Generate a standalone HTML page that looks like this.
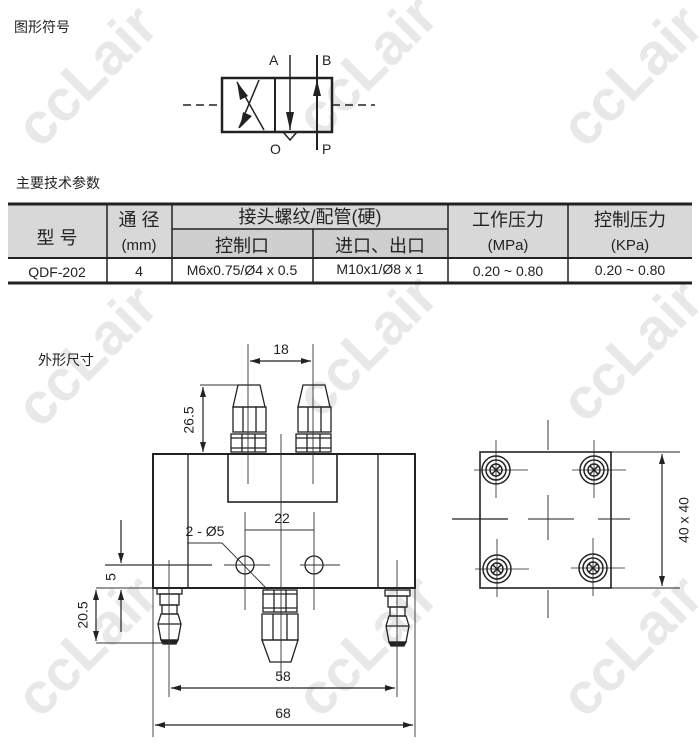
<!DOCTYPE html>
<html><head><meta charset="utf-8"><style>
html,body{margin:0;padding:0;background:#fff;}
svg{display:block;}
text{font-family:"Liberation Sans","Noto Sans CJK SC",sans-serif;fill:#222;}
.cjk{font-family:"Noto Sans CJK SC","WenQuanYi Zen Hei",sans-serif;}
.wm{font-family:"Liberation Sans",sans-serif;font-weight:bold;font-size:58px;fill:#e8e8e8;}
</style></head><body>
<svg width="700" height="752" viewBox="0 0 700 752" xmlns="http://www.w3.org/2000/svg">
<defs>
<marker id="ar" viewBox="0 0 10 6" refX="10" refY="3" markerWidth="10" markerHeight="6" orient="auto-start-reverse" markerUnits="userSpaceOnUse"><path d="M0,0L10,3L0,6z" fill="#222"/></marker>
</defs>
<g>
<text class="wm" transform="translate(40,150) rotate(-45)">ccLair</text>
<text class="wm" transform="translate(320,140) rotate(-45)">ccLair</text>
<text class="wm" transform="translate(585,150) rotate(-45)">ccLair</text>
<text class="wm" transform="translate(40,430) rotate(-45)">ccLair</text>
<text class="wm" transform="translate(320,420) rotate(-45)">ccLair</text>
<text class="wm" transform="translate(585,425) rotate(-45)">ccLair</text>
<text class="wm" transform="translate(40,720) rotate(-45)">ccLair</text>
<text class="wm" transform="translate(320,720) rotate(-45)">ccLair</text>
<text class="wm" transform="translate(585,720) rotate(-45)">ccLair</text>
</g>

<text x="14" y="32" font-size="14" class="cjk">图形符号</text>
<text x="16" y="188" font-size="14" class="cjk">主要技术参数</text>
<text x="38" y="365" font-size="14" class="cjk">外形尺寸</text>

<g stroke="#222" fill="none">
<rect x="222" y="78" width="110" height="54" stroke-width="2.5"/>
<line x1="275" y1="78" x2="275" y2="132" stroke-width="2"/>
<line x1="183" y1="105" x2="222" y2="105" stroke-width="1.5" stroke-dasharray="8,5"/>
<line x1="332" y1="105" x2="375" y2="105" stroke-width="1.5" stroke-dasharray="8,5"/>
<line x1="237" y1="82" x2="264" y2="130" stroke-width="1.5"/>
<line x1="259" y1="80" x2="239" y2="128" stroke-width="1.5"/>
<line x1="290" y1="55" x2="290" y2="130" stroke-width="1.5"/>
<line x1="317" y1="55" x2="317" y2="150" stroke-width="2"/>
<path d="M283,132 L290,140 L297,132" stroke-width="1.5"/>
</g>
<path d="M237,82 L248,96 L240,100z" fill="#222"/>
<path d="M240,128 L243,112 L252,116z" fill="#222"/>
<path d="M286,112 L294,112 L290,130z" fill="#222"/>
<path d="M313,96 L321,96 L317,80z" fill="#222"/>
<text x="269" y="65" font-size="14">A</text>
<text x="322" y="65" font-size="14">B</text>
<text x="270" y="154" font-size="14">O</text>
<text x="322" y="154" font-size="14">P</text>

<rect x="8" y="204" width="684" height="54" fill="#d8d8d8"/>
<rect x="172" y="229" width="276" height="29" fill="#cfcfcf"/>
<g stroke="#222" fill="none">
<line x1="8" y1="204" x2="692" y2="204" stroke-width="3"/>
<line x1="8" y1="258" x2="692" y2="258" stroke-width="2"/>
<line x1="8" y1="283" x2="692" y2="283" stroke-width="3"/>
<line x1="172" y1="229" x2="448" y2="229" stroke-width="1.5"/>
<line x1="107" y1="204" x2="107" y2="283" stroke-width="1.5"/>
<line x1="172" y1="204" x2="172" y2="283" stroke-width="1.5"/>
<line x1="313" y1="229" x2="313" y2="283" stroke-width="1.5"/>
<line x1="448" y1="204" x2="448" y2="283" stroke-width="1.5"/>
<line x1="568" y1="204" x2="568" y2="283" stroke-width="1.5"/>
</g>
<g font-size="18" class="cjk" text-anchor="middle">
<text x="57" y="244">型 号</text>
<text x="139" y="226">通 径</text>
<text x="310" y="223">接头螺纹/配管(硬)</text>
<text x="242" y="252">控制口</text>
<text x="380" y="252">进口、出口</text>
<text x="508" y="226">工作压力</text>
<text x="630" y="226">控制压力</text>
</g>
<g font-size="15" text-anchor="middle">
<text x="139" y="250">(mm)</text>
<text x="508" y="250">(MPa)</text>
<text x="630" y="250">(KPa)</text>
</g>
<g font-size="14" text-anchor="middle">
<text x="57" y="277">QDF-202</text>
<text x="139" y="276">4</text>
<text x="242" y="275">M6x0.75/Ø4 x 0.5</text>
<text x="380" y="274">M10x1/Ø8 x 1</text>
<text x="508" y="276">0.20 ~ 0.80</text>
<text x="630" y="275">0.20 ~ 0.80</text>
</g>

<g stroke="#222" fill="none" stroke-width="1.3">
<rect x="153" y="454" width="262" height="134" stroke-width="2"/>
<line x1="188" y1="454" x2="188" y2="588"/>
<line x1="378" y1="454" x2="378" y2="588"/>
<rect x="228" y="454" width="109" height="48" stroke-width="1.6"/>
<g id="tf">
<path d="M238,385 L260,385 L265,407 L233,407z"/>
<rect x="233" y="407" width="33" height="25"/>
<line x1="243" y1="407" x2="243" y2="432"/><line x1="256" y1="407" x2="256" y2="432"/>
<rect x="231" y="434" width="35" height="18"/>
<line x1="231" y1="438" x2="266" y2="438"/><line x1="231" y1="448" x2="266" y2="448"/>
<line x1="242" y1="434" x2="242" y2="452"/><line x1="255" y1="434" x2="255" y2="452"/>
</g>
<use href="#tf" transform="translate(65,0)"/>
<rect x="263" y="590" width="34" height="22"/>
<line x1="263" y1="594" x2="297" y2="594"/><line x1="263" y1="608" x2="297" y2="608"/>
<line x1="274" y1="590" x2="274" y2="612"/><line x1="286" y1="590" x2="286" y2="612"/>
<rect x="262" y="614" width="36" height="26"/>
<line x1="273" y1="614" x2="273" y2="640"/><line x1="287" y1="614" x2="287" y2="640"/>
<path d="M262,640 L298,640 L291,662 L270,662z"/>
<g id="bf">
<rect x="157" y="588" width="25" height="6"/>
<rect x="160" y="594" width="19" height="11"/>
<rect x="162" y="605" width="15" height="9"/>
<path d="M161,614 L178,614 L181,624 L178,640 L161,640 L158,624z"/>
<line x1="158" y1="624" x2="181" y2="624"/>
<path d="M161,640 L178,640 L176,644 L163,644z" fill="#222"/>
</g>
<use href="#bf" transform="translate(228,2)"/>
<circle cx="245" cy="565" r="9"/>
<circle cx="314" cy="565" r="9"/>
</g>
<g stroke="#333" stroke-width="0.9" fill="none">
<line x1="248" y1="344" x2="248" y2="484"/>
<line x1="313" y1="344" x2="313" y2="484"/>
<line x1="281" y1="434" x2="281" y2="680"/>
<line x1="245" y1="512" x2="245" y2="610"/>
<line x1="314" y1="512" x2="314" y2="610"/>
<line x1="105" y1="565" x2="212" y2="565" stroke-width="1.2"/>
<line x1="224" y1="565" x2="270" y2="565"/>
<line x1="300" y1="565" x2="340" y2="565"/>
<line x1="169" y1="560" x2="169" y2="697"/>
<line x1="397" y1="560" x2="397" y2="697"/>
<line x1="415" y1="588" x2="415" y2="737"/>
<line x1="153" y1="588" x2="153" y2="737"/>
<line x1="200" y1="385" x2="238" y2="385"/>
<line x1="96" y1="588" x2="153" y2="588"/>
<line x1="96" y1="643" x2="165" y2="643"/>
<path d="M187,543 L222,543 L268,590"/>
<line x1="245" y1="530" x2="314" y2="530"/>
</g>
<g stroke="#222" stroke-width="1.2" fill="none">
<line x1="250" y1="361" x2="311" y2="361" marker-start="url(#ar)" marker-end="url(#ar)"/>
<line x1="203" y1="387" x2="203" y2="452" marker-start="url(#ar)" marker-end="url(#ar)"/>
<line x1="121" y1="520" x2="121" y2="563" marker-end="url(#ar)"/>
<line x1="121" y1="632" x2="121" y2="590" marker-end="url(#ar)"/>
<line x1="96" y1="590" x2="96" y2="641" marker-start="url(#ar)" marker-end="url(#ar)"/>
<line x1="171" y1="688" x2="395" y2="688" marker-start="url(#ar)" marker-end="url(#ar)"/>
<line x1="155" y1="725" x2="413" y2="725" marker-start="url(#ar)" marker-end="url(#ar)"/>
</g>
<g font-size="14" text-anchor="middle">
<text x="281" y="354">18</text>
<text x="190" y="420" transform="rotate(-90 190 420)" dominant-baseline="middle">26.5</text>
<text x="282" y="523">22</text>
<text x="205" y="536">2 - Ø5</text>
<text x="112" y="577" transform="rotate(-90 112 577)" dominant-baseline="middle">5</text>
<text x="84" y="615" transform="rotate(-90 84 615)" dominant-baseline="middle">20.5</text>
<text x="283" y="681">58</text>
<text x="283" y="718">68</text>
</g>

<g stroke="#222" fill="none">
<rect x="480" y="452" width="131" height="136" stroke-width="1.6"/>
<line x1="611" y1="452" x2="680" y2="452" stroke-width="1"/>
<line x1="611" y1="588" x2="680" y2="588" stroke-width="1"/>
<line x1="662" y1="454" x2="662" y2="586" stroke-width="1.2" marker-start="url(#ar)" marker-end="url(#ar)"/>
<g stroke-width="0.9">
<line x1="548" y1="420" x2="548" y2="450"/><line x1="548" y1="495" x2="548" y2="540"/><line x1="548" y1="590" x2="548" y2="618"/>
<line x1="452" y1="519" x2="508" y2="519" stroke-width="1.3"/><line x1="528" y1="519" x2="574" y2="519"/><line x1="598" y1="519" x2="630" y2="519"/>
</g>
<g id="sc">
<circle cx="496" cy="470" r="14" stroke-width="1.5"/>
<circle cx="496" cy="470" r="10" stroke-width="1.5"/>
<circle cx="496" cy="470" r="6" stroke-width="1.5"/>
<path d="M492,466 L500,474 M500,466 L492,474" stroke-width="1.5"/>
<line x1="474" y1="470" x2="528" y2="470" stroke-width="0.8"/>
<line x1="496" y1="440" x2="496" y2="498" stroke-width="0.8"/>
</g>
<use href="#sc" transform="translate(98,0)"/>
<use href="#sc" transform="translate(1,99)"/>
<use href="#sc" transform="translate(97,98)"/>
</g>
<text x="685" y="520" font-size="14" text-anchor="middle" transform="rotate(-90 685 520)" dominant-baseline="middle">40 x 40</text>
</svg>
</body></html>
